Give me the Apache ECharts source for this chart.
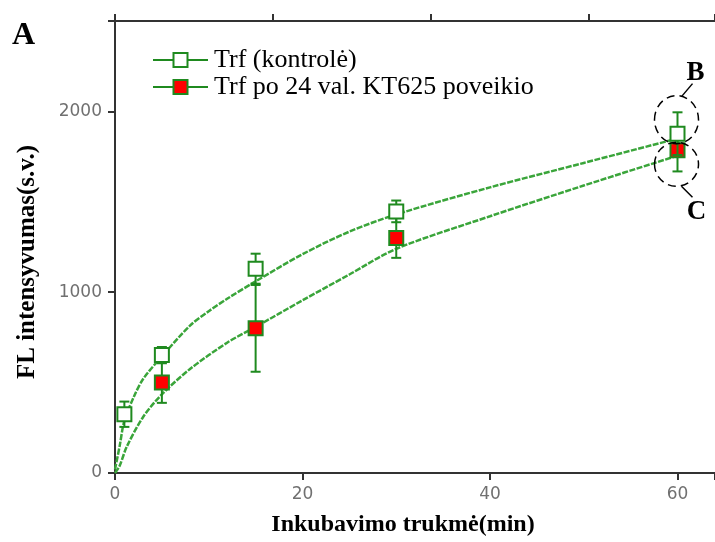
<!DOCTYPE html>
<html>
<head>
<meta charset="utf-8">
<script src="https://cdn.jsdelivr.net/npm/echarts@6/dist/echarts.min.js"></script>
<style>
  html, body { margin: 0; padding: 0; background: #fff; }
  #chart { width: 715px; height: 542px; }
</style>
</head>
<body>
<div id="chart"></div>
<script>
// measured points (min, FL a.u.) and their error half-widths
const ctrlX = [1, 5, 15, 30, 60];
const ctrlY = [325, 652, 1130, 1447, 1877];
const ctrlErr = [70, 45, 83, 60, 118];

const kt625X = [5, 15, 30, 60];
const kt625Y = [500, 800, 1300, 1785];
const kt625Err = [112, 240, 110, 117];

// fitted curves
const ctrlCurveX = [0, 0.5, 1, 2, 3, 5, 8, 10, 12, 15, 20, 25, 30, 40, 50, 60];
const ctrlCurveY = [20, 150, 290, 420, 520, 645, 815, 895, 965, 1060, 1210, 1335, 1430, 1580, 1715, 1850];
const kt625CurveX = [0, 0.5, 1.25, 3, 5, 8, 12, 15, 20, 25, 30, 40, 50, 60];
const kt625CurveY = [0, 40, 145, 310, 435, 575, 722, 808, 955, 1098, 1240, 1420, 1590, 1755];

const xTicks = [0, 20, 40, 60];
const yTicks = [0, 1000, 2000];

const seriesNames = ['Trf (kontrolė)', 'Trf po 24 val. KT625 poveikio'];

const GREEN = '#1f8a1f';
const CURVE = '#3aa53a';
const SERIF = '"Liberation Serif", "Times New Roman", serif';

const zip = (xs, ys) => xs.map((x, i) => [x, ys[i]]);
const bars = (xs, ys, es) => xs.map((x, i) => [x, ys[i] - es[i], ys[i] + es[i]]);

function renderErrorBar(params, api) {
    const x = api.value(0);
    const lo = api.coord([x, api.value(1)]);
    const hi = api.coord([x, api.value(2)]);
    const half = 5;
    const style = { stroke: GREEN, lineWidth: 2 };
    return {
        type: 'group',
        children: [
            { type: 'line', shape: { x1: lo[0], y1: lo[1], x2: hi[0], y2: hi[1] }, style: style },
            { type: 'line', shape: { x1: lo[0] - half, y1: lo[1], x2: lo[0] + half, y2: lo[1] }, style: style },
            { type: 'line', shape: { x1: hi[0] - half, y1: hi[1], x2: hi[0] + half, y2: hi[1] }, style: style }
        ]
    };
}

const myChart = echarts.init(document.getElementById('chart'), null, { renderer: 'canvas' });

const axisLine = { show: true, lineStyle: { color: '#333', width: 2 } };
const axisTick = { show: true, length: 7, lineStyle: { color: '#333', width: 2 } };
const tickLabel = {
    color: '#707070', fontFamily: '"DejaVu Sans", sans-serif', fontSize: 17, margin: 13,
    formatter: function (v) { return String(v); }
};

const option = {
    backgroundColor: '#fff',
    animation: false,
    grid: { left: 115, right: 0, top: 21, bottom: 69, containLabel: false },
    legend: {
        data: seriesNames,
        orient: 'vertical',
        left: 147,
        top: 42,
        itemWidth: 55,
        itemHeight: 17.5,
        itemGap: 1,
        selectedMode: false,
        textStyle: { fontFamily: SERIF, fontSize: 26, color: '#000', padding: [0, 0, 0, 1] },
        lineStyle: { color: GREEN, width: 2, opacity: 1 }
    },
    xAxis: [{
        type: 'value',
        position: 'bottom',
        min: 0, max: 64, interval: 20,
        name: 'Inkubavimo trukmė(min)',
        nameLocation: 'middle',
        nameGap: 40,
        nameTextStyle: { fontFamily: SERIF, fontWeight: 'bold', fontSize: 24, color: '#000', padding: [0, 24, 0, 0] },
        axisLine: axisLine,
        axisTick: axisTick,
        axisLabel: Object.assign({ customValues: xTicks }, tickLabel),
        splitLine: { show: false }
    }, {
        type: 'value',
        position: 'top',
        min: 0, max: 76, interval: 20,
        axisLine: axisLine,
        axisTick: axisTick,
        axisLabel: { show: false },
        splitLine: { show: false }
    }],
    yAxis: {
        type: 'value',
        min: 0, max: 2500, interval: 1000,
        name: 'FL intensyvumas(s.v.)',
        nameLocation: 'middle',
        nameGap: 75,
        nameTextStyle: { fontFamily: SERIF, fontWeight: 'bold', fontSize: 25, color: '#000', padding: [0, 30, 0, 0] },
        axisLine: axisLine,
        axisTick: axisTick,
        axisLabel: Object.assign({ customValues: yTicks }, tickLabel),
        splitLine: { show: false }
    },
    series: [
        {
            name: 'ctrl-curve', type: 'line', xAxisIndex: 0, z: 2,
            data: zip(ctrlCurveX, ctrlCurveY),
            smooth: 0.3, showSymbol: false, silent: true,
            lineStyle: { color: CURVE, width: 2.5, type: [6, 1.5] }
        },
        {
            name: 'kt625-curve', type: 'line', xAxisIndex: 0, z: 2,
            data: zip(kt625CurveX, kt625CurveY),
            smooth: 0.3, showSymbol: false, silent: true,
            lineStyle: { color: CURVE, width: 2.5, type: [6, 1.5] }
        },
        {
            type: 'custom', xAxisIndex: 0, z: 3,
            renderItem: renderErrorBar,
            data: bars(kt625X, kt625Y, kt625Err)
        },
        {
            name: seriesNames[1], type: 'line', xAxisIndex: 0, z: 4,
            data: zip(kt625X, kt625Y),
            symbol: 'rect', symbolSize: 14,
            itemStyle: { color: '#ff0000', borderColor: GREEN, borderWidth: 2 },
            lineStyle: { opacity: 0 }
        },
        {
            type: 'custom', xAxisIndex: 0, z: 5,
            renderItem: renderErrorBar,
            data: bars(ctrlX, ctrlY, ctrlErr)
        },
        {
            name: seriesNames[0], type: 'line', xAxisIndex: 0, z: 6,
            data: zip(ctrlX, ctrlY),
            symbol: 'rect', symbolSize: 14,
            itemStyle: { color: '#ffffff', borderColor: GREEN, borderWidth: 2 },
            lineStyle: { opacity: 0 }
        }
    ]
};

myChart.setOption(option);

// dashed rings + letters around the 60 min points
const pB = myChart.convertToPixel({ xAxisIndex: 0, yAxisIndex: 0 }, [ctrlX[4], ctrlY[4]]);
const pC = myChart.convertToPixel({ xAxisIndex: 0, yAxisIndex: 0 }, [kt625X[3], kt625Y[3]]);
const ring = { fill: 'none', stroke: '#000', lineWidth: 1.5, lineDash: [8, 5] };
const letter = { fill: '#000', fontFamily: SERIF, fontWeight: 'bold', fontSize: 27, align: 'center', verticalAlign: 'middle' };

myChart.setOption({
    graphic: [
        { type: 'text', left: 12, top: 20, style: { text: 'A', fill: '#000', fontFamily: SERIF, fontWeight: 'bold', fontSize: 32 } },
        { type: 'ellipse', z: 10, shape: { cx: pB[0] - 1, cy: pB[1] - 14, rx: 22, ry: 24 }, style: ring },
        { type: 'ellipse', z: 10, shape: { cx: pC[0] - 1, cy: pC[1] + 14, rx: 22, ry: 22 }, style: ring },
        { type: 'line', z: 10, shape: { x1: pB[0] + 4, y1: pB[1] - 37, x2: pB[0] + 15, y2: pB[1] - 50 }, style: { stroke: '#000', lineWidth: 1.5 } },
        { type: 'line', z: 10, shape: { x1: pC[0] + 4, y1: pC[1] + 36, x2: pC[0] + 15, y2: pC[1] + 47 }, style: { stroke: '#000', lineWidth: 1.5 } },
        { type: 'text', z: 10, x: pB[0] + 18, y: pB[1] - 61, style: Object.assign({ text: 'B' }, letter) },
        { type: 'text', z: 10, x: pC[0] + 19, y: pC[1] + 62, style: Object.assign({ text: 'C' }, letter) }
    ]
});
</script>
</body>
</html>
